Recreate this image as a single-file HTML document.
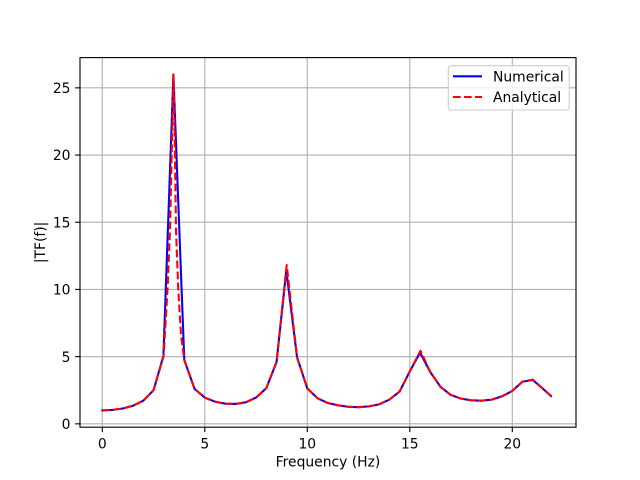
<!DOCTYPE html>
<html>
<head>
<meta charset="utf-8">
<style>
html,body{margin:0;padding:0;background:#fff;}
svg{display:block;}
text{font-family:"DejaVu Sans","Liberation Sans",sans-serif;font-size:13.89px;fill:#000;}
</style>
</head>
<body>
<svg width="640" height="480" viewBox="0 0 640 480" xmlns="http://www.w3.org/2000/svg">
<rect x="0" y="0" width="640" height="480" fill="#fff"/>
<defs>
<clipPath id="ax"><rect x="80" y="57.6" width="496" height="369.6"/></clipPath>
</defs>
<!-- grid -->
<g stroke="#b0b0b0" stroke-width="1.11" fill="none">
<line x1="102.3" y1="57.6" x2="102.3" y2="427.2"/>
<line x1="204.8" y1="57.6" x2="204.8" y2="427.2"/>
<line x1="307.3" y1="57.6" x2="307.3" y2="427.2"/>
<line x1="409.8" y1="57.6" x2="409.8" y2="427.2"/>
<line x1="512.3" y1="57.6" x2="512.3" y2="427.2"/>
<line x1="80" y1="423.84" x2="576" y2="423.84"/>
<line x1="80" y1="356.64" x2="576" y2="356.64"/>
<line x1="80" y1="289.44" x2="576" y2="289.44"/>
<line x1="80" y1="222.24" x2="576" y2="222.24"/>
<line x1="80" y1="155.04" x2="576" y2="155.04"/>
<line x1="80" y1="87.84" x2="576" y2="87.84"/>
</g>
<g clip-path="url(#ax)" fill="none" stroke-width="2.08" stroke-linejoin="round">
<polyline stroke="#0000ff" stroke-linecap="square" points="102.3,410.4 112.55,409.86 122.8,408.52 133.05,405.7 143.3,400.7 153.55,390.2 163.4,356 173.4,74.6 184.3,360 194.55,388.9 204.8,397.6 215.05,401.7 225.3,403.7 235.55,403.95 245.8,402.3 256.05,397.6 266.3,388.2 276.55,362 286.3,270.6 297.05,357.3 307.3,388.4 317.55,398.3 327.8,403 338.05,405.3 348.3,406.8 358.55,407.2 368.8,406.4 379.05,404.35 389.3,399.65 399.55,391.6 409.8,371.4 420.05,352.6 430.3,372.1 440.55,386.9 450.8,394.95 461.05,398.6 471.3,400.3 481.55,400.7 491.8,399.65 502.05,396.3 512.3,390.9 522.55,381.6 532.8,380 543.05,388.9 551,396"/>
<polyline stroke="#ff0000" stroke-dasharray="7.7 3.3" points="102.3,410.4 112.55,409.86 122.8,408.52 133.05,405.7 143.3,400.7 153.55,390.2 163.6,356 165.6,322 167.5,290 170,230 171.8,150 172.8,105 173.4,74.4 174.2,105 174.9,150 176,230 178.3,290 181,335 184.3,360 194.55,388.9 204.8,397.6 215.05,401.7 225.3,403.7 235.55,403.95 245.8,402.3 256.05,397.6 266.3,388.2 276.55,362 286.7,265 297.05,357.3 307.3,388.4 317.55,398.3 327.8,403 338.05,405.3 348.3,406.8 358.55,407.2 368.8,406.4 379.05,404.35 389.3,399.65 399.55,391.6 409.8,371.4 420.5,350.7 430.3,372.1 440.55,386.9 450.8,394.95 461.05,398.6 471.3,400.3 481.55,400.7 491.8,399.65 502.05,396.3 512.3,390.9 522.55,381.6 532.8,379.6 543.05,388.9 551,396"/>
</g>
<!-- spines -->
<rect x="80" y="57.6" width="496" height="369.6" fill="none" stroke="#000" stroke-width="1.11"/>
<!-- ticks -->
<g stroke="#000" stroke-width="1.11">
<line x1="102.3" y1="427.2" x2="102.3" y2="432.1"/>
<line x1="204.8" y1="427.2" x2="204.8" y2="432.1"/>
<line x1="307.3" y1="427.2" x2="307.3" y2="432.1"/>
<line x1="409.8" y1="427.2" x2="409.8" y2="432.1"/>
<line x1="512.3" y1="427.2" x2="512.3" y2="432.1"/>
<line x1="75.1" y1="423.84" x2="80" y2="423.84"/>
<line x1="75.1" y1="356.64" x2="80" y2="356.64"/>
<line x1="75.1" y1="289.44" x2="80" y2="289.44"/>
<line x1="75.1" y1="222.24" x2="80" y2="222.24"/>
<line x1="75.1" y1="155.04" x2="80" y2="155.04"/>
<line x1="75.1" y1="87.84" x2="80" y2="87.84"/>
</g>
<g text-anchor="middle">
<text x="102.3" y="448.4">0</text>
<text x="204.8" y="448.4">5</text>
<text x="307.3" y="448.4">10</text>
<text x="409.8" y="448.4">15</text>
<text x="512.3" y="448.4">20</text>
</g>
<g text-anchor="end">
<text x="70.5" y="429">0</text>
<text x="70.5" y="361.8">5</text>
<text x="70.5" y="294.6">10</text>
<text x="70.5" y="227.4">15</text>
<text x="70.5" y="160.2">20</text>
<text x="70.5" y="93">25</text>
</g>
<text x="328" y="466.5" text-anchor="middle">Frequency (Hz)</text>
<text x="45" y="242.4" text-anchor="middle" transform="rotate(-90 45 242.4)">|TF(f)|</text>
<!-- legend -->
<rect x="448.3" y="65.7" width="121" height="44.3" rx="2.8" ry="2.8" fill="#fff" fill-opacity="0.8" stroke="#cccccc" stroke-width="1.11"/>
<line x1="453" y1="76.3" x2="482" y2="76.3" stroke="#0000ff" stroke-width="2.08"/>
<line x1="453" y1="97" x2="482" y2="97" stroke="#ff0000" stroke-width="2.08" stroke-dasharray="7.7 3.3"/>
<text x="493" y="81.3">Numerical</text>
<text x="493" y="102">Analytical</text>
</svg>
</body>
</html>
